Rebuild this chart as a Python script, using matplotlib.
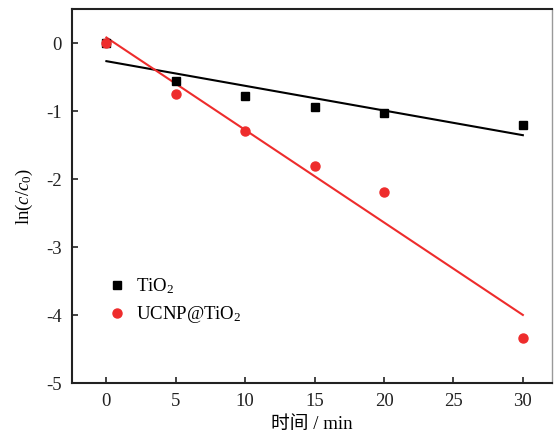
import numpy as np
import matplotlib
matplotlib.use('Agg')
from matplotlib import pyplot as plt
from matplotlib.ticker import FuncFormatter

plt.rcParams['font.family'] = ['Liberation Serif', 'Noto Sans CJK SC']
plt.rcParams['mathtext.fontset'] = 'custom'
plt.rcParams['mathtext.rm'] = 'Liberation Serif'
plt.rcParams['mathtext.it'] = 'Liberation Serif:italic'

time_min = [0, 5, 10, 15, 20, 30]
tio2 = [0.0, -0.55, -0.78, -0.93, -1.02, -1.20]
ucnp_tio2 = [0.0, -0.75, -1.29, -1.81, -2.18, -4.34]

RED = '#ee2c2c'

fig = plt.figure(figsize=(5.54, 4.36), dpi=100)
ax = fig.add_axes([0.1294, 0.1209, 0.8670, 0.8578])

# linear fits
x = np.array(time_min)
for y, col in ((tio2, 'black'), (ucnp_tio2, RED)):
    k, b = np.polyfit(x, y, 1)
    ax.plot([x[0], x[-1]], [b, k * x[-1] + b], color=col, lw=1.5, zorder=2)

ax.plot(time_min, tio2, 's', color='black', ms=6, label='TiO$_2$', zorder=3)
ax.plot(time_min, ucnp_tio2, 'o', color=RED, ms=6.5, label='UCNP@TiO$_2$', zorder=3)

ax.set_xlim(-2.5, 32.1)
ax.set_ylim(-5, 0.5)
ax.set_xticks([0, 5, 10, 15, 20, 25, 30])
ax.set_yticks([0, -1, -2, -3, -4, -5])
ax.yaxis.set_major_formatter(FuncFormatter(lambda v, p: '%d' % v if v >= 0 else '-%d' % abs(v)))
ax.tick_params(direction='in', length=4, width=1.2, labelsize=13.5, colors='#222222')
ax.tick_params(axis='x', pad=7)
ax.tick_params(axis='y', pad=7)
for s in ax.spines.values():
    s.set_linewidth(1.5)
    s.set_color('#222222')
ax.spines['right'].set_color('#999999')
ax.spines['right'].set_linewidth(1.0)

ax.set_xlabel('时间 / min', fontsize=13.5, labelpad=4)
ax.set_ylabel('ln($c$/$c_0$)', fontsize=13.5, labelpad=8)

ax.legend(loc='lower left', bbox_to_anchor=(0.04, 0.11), frameon=False, fontsize=13.5,
          handletextpad=0.5, labelspacing=0.45, handlelength=1.0)

fig.savefig('out.png', dpi=100)
